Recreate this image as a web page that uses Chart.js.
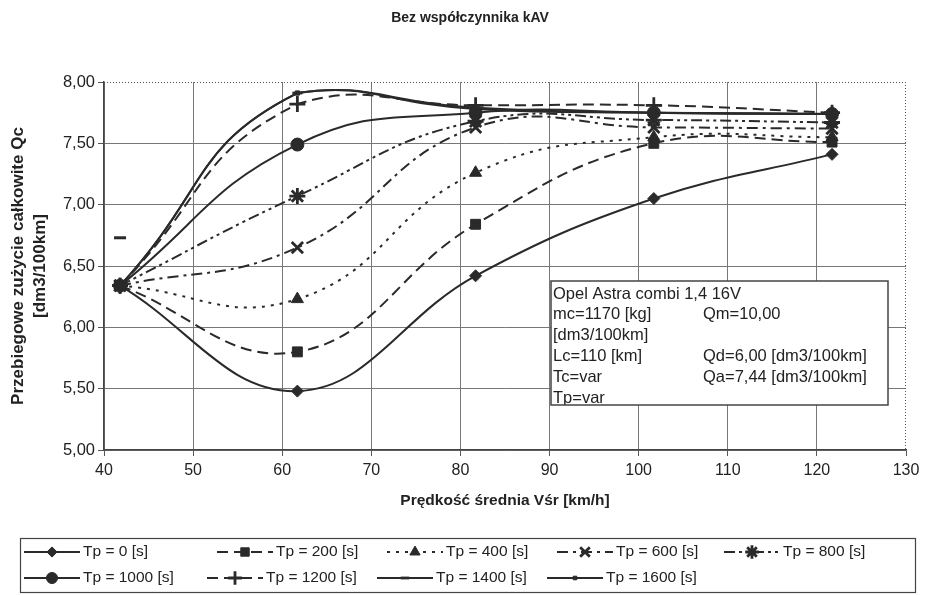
<!DOCTYPE html>
<html>
<head>
<meta charset="utf-8">
<script src="https://cdn.jsdelivr.net/npm/chart.js@4/dist/chart.umd.min.js"></script>
<style>
  body { margin: 0; background: #fff; }
  #wrap { width: 936px; height: 595px; }
</style>
</head>
<body>
<div id="wrap"><canvas id="qcChart" width="936" height="595"></canvas></div>
<script>
// predkosc srednia [km/h]
const speeds = [41.8, 61.7, 81.7, 101.7, 121.7];

const tp0 = [6.34, 5.48, 6.42, 7.05, 7.41];
const tp200 = [6.34, 5.80, 6.84, 7.50, 7.51];
const tp400 = [6.34, 6.23, 7.26, 7.55, 7.55];
const tp600 = [6.34, 6.65, 7.63, 7.63, 7.62];
const tp800 = [6.34, 7.07, 7.68, 7.69, 7.67];
const tp1000 = [6.34, 7.49, 7.75, 7.75, 7.74];
const tp1200 = [6.34, 7.82, 7.81, 7.81, 7.75];
const tp1400 = [6.34, 7.91, 7.79, 7.75, 7.74];
const tp1600 = [6.34, 7.91, 7.78, 7.75, 7.74];

// pojedynczy znacznik przy 42 km/h
const strayPoint = [{ x: 41.8, y: 6.73 }];

const yTicks = [5.0, 5.5, 6.0, 6.5, 7.0, 7.5, 8.0];

const infoLines = [
    ['Opel Astra combi 1,4 16V', ''],
    ['mc=1170 [kg]', 'Qm=10,00'],
    ['[dm3/100km]', ''],
    ['Lc=110 [km]', 'Qd=6,00 [dm3/100km]'],
    ['Tc=var', 'Qa=7,44 [dm3/100km]'],
    ['Tp=var', '']
];

const ink = '#2a2a2a';
const font = '"Liberation Sans", Arial, sans-serif';

function pts(values) {
    return values.map((v, i) => ({ x: speeds[i], y: v }));
}

const series = [
    { label: 'Tp = 0 [s]', data: tp0, dash: [], style: 'rectRot', r: 6, t: 0.4 },
    { label: 'Tp = 200 [s]', data: tp200, dash: [11, 6], style: 'rect', r: 7, t: 0.42 },
    { label: 'Tp = 400 [s]', data: tp400, dash: [3, 6], style: 'triangle', r: 7, t: 0.45 },
    { label: 'Tp = 600 [s]', data: tp600, dash: [11, 5, 3, 5], style: 'crossRot', r: 8, t: 0.45 },
    { label: 'Tp = 800 [s]', data: tp800, dash: [11, 4, 3, 4, 3, 4], style: 'star', r: 8, t: 0.45 },
    { label: 'Tp = 1000 [s]', data: tp1000, dash: [], style: 'circle', r: 6.5, t: 0.45 },
    { label: 'Tp = 1200 [s]', data: tp1200, dash: [11, 6], style: 'cross', r: 8, t: 0.5 },
    { label: 'Tp = 1400 [s]', data: tp1400, dash: [], style: 'line', r: 5, t: 0.5 },
    { label: 'Tp = 1600 [s]', data: tp1600, dash: [], style: 'rect', r: 3, t: 0.5 }
];

const thinMarks = ['crossRot', 'star', 'cross', 'line'];

const datasets = series.map(s => ({
    label: s.label,
    data: pts(s.data),
    borderColor: ink,
    backgroundColor: ink,
    borderWidth: 2,
    borderDash: s.dash,
    pointStyle: s.style,
    pointRadius: s.r,
    pointBorderWidth: thinMarks.includes(s.style) ? 2.8 : 1,
    tension: s.t,
    fill: false
}));

datasets.push({
    label: '',
    data: strayPoint,
    showLine: false,
    borderColor: ink,
    backgroundColor: ink,
    pointStyle: 'line',
    pointRadius: 6,
    pointBorderWidth: 3
});

// tytul, ramka kropkowana u gory i z prawej
const frame = {
    id: 'frame',
    beforeDatasetsDraw(chart) {
        const a = chart.chartArea, ctx = chart.ctx;
        ctx.save();
        ctx.strokeStyle = '#555';
        ctx.lineWidth = 1;
        ctx.setLineDash([1, 2]);
        ctx.beginPath();
        ctx.moveTo(a.left, a.top + 0.5);
        ctx.lineTo(a.right, a.top + 0.5);
        ctx.moveTo(a.right - 0.5, a.top);
        ctx.lineTo(a.right - 0.5, a.bottom);
        ctx.stroke();
        ctx.restore();
    },
    afterDraw(chart) {
        const ctx = chart.ctx;
        ctx.save();
        ctx.fillStyle = '#222';
        ctx.font = 'bold 14px ' + font;
        ctx.textAlign = 'center';
        ctx.textBaseline = 'middle';
        ctx.fillText('Bez współczynnika kAV', 470, 18);
        ctx.restore();
    }
};

const infoBox = {
    id: 'infoBox',
    afterDatasetsDraw(chart) {
        const ctx = chart.ctx;
        const x = 551, y = 281, w = 337, h = 124;
        ctx.save();
        ctx.fillStyle = '#fff';
        ctx.fillRect(x, y, w, h);
        ctx.beginPath();
        ctx.rect(x, y, w, h);
        ctx.clip();
        ctx.fillStyle = '#222';
        ctx.font = '16.5px ' + font;
        ctx.textBaseline = 'middle';
        infoLines.forEach((ln, i) => {
            const ty = y + 13 + i * 20.8;
            ctx.fillText(ln[0], x + 2, ty);
            if (ln[1]) ctx.fillText(ln[1], x + 152, ty);
        });
        ctx.restore();
        ctx.save();
        ctx.strokeStyle = '#444';
        ctx.lineWidth = 1.5;
        ctx.strokeRect(x, y, w, h);
        ctx.restore();
    }
};

const legendBox = {
    id: 'legendBox',
    afterDraw(chart) {
        const ctx = chart.ctx;
        const cols = [[24, 217, 387, 557, 724], [24, 207, 377, 547]];
        const rows = [552, 578];
        ctx.save();
        ctx.strokeStyle = '#444';
        ctx.lineWidth = 1.2;
        ctx.strokeRect(20.5, 538.5, 895, 54);
        ctx.font = '15.5px ' + font;
        ctx.textBaseline = 'middle';
        series.forEach((s, i) => {
            const row = i < 5 ? 0 : 1;
            const x0 = cols[row][row === 0 ? i : i - 5];
            const y0 = rows[row];
            const len = 56;
            ctx.strokeStyle = ink;
            ctx.fillStyle = ink;
            ctx.lineWidth = 2;
            ctx.setLineDash(s.dash);
            ctx.beginPath();
            ctx.moveTo(x0, y0);
            ctx.lineTo(x0 + len, y0);
            ctx.stroke();
            ctx.setLineDash([]);
            const bw = datasets[i].pointBorderWidth;
            ctx.lineWidth = bw;
            Chart.helpers.drawPoint(ctx, { pointStyle: s.style, radius: s.r * 0.85, rotation: 0, borderWidth: bw }, x0 + len / 2, y0);
            ctx.fillStyle = '#222';
            ctx.fillText(s.label, x0 + len + 3, y0);
        });
        ctx.restore();
    }
};

const ctx = document.getElementById('qcChart').getContext('2d');
const qcChart = new Chart(ctx, {
    type: 'line',
    data: { datasets: datasets },
    plugins: [frame, infoBox, legendBox],
    options: {
        responsive: false,
        animation: false,
        layout: { padding: { left: 0, right: 30, top: 82, bottom: 85 } },
        plugins: {
            legend: { display: false },
            tooltip: { enabled: false },
            title: { display: false }
        },
        scales: {
            x: {
                type: 'linear',
                min: 40,
                max: 130,
                afterFit: s => { s.height = 60; },
                ticks: {
                    stepSize: 10,
                    color: '#222',
                    padding: 5,
                    font: { family: font, size: 16 }
                },
                grid: {
                    color: c => c.tick && c.tick.value === 130 ? 'rgba(0,0,0,0)' : '#777',
                    tickLength: 6,
                    tickColor: '#555'
                },
                border: { color: '#444', width: 1.5 },
                title: {
                    display: true,
                    text: 'Prędkość średnia Vśr [km/h]',
                    color: '#222',
                    padding: { top: 0, bottom: 0 },
                    font: { family: font, size: 15.5, weight: 'bold' }
                }
            },
            y: {
                min: 5,
                max: 8,
                afterFit: s => { s.width = 104; },
                afterBuildTicks: s => { s.ticks = yTicks.map(v => ({ value: v })); },
                ticks: {
                    color: '#222',
                    padding: 3,
                    font: { family: font, size: 16.5 },
                    callback: v => v.toFixed(2).replace('.', ',')
                },
                grid: {
                    color: c => c.tick && c.tick.value === 8 ? 'rgba(0,0,0,0)' : '#777',
                    tickLength: 6,
                    tickColor: '#555'
                },
                border: { color: '#444', width: 1.5 },
                title: {
                    display: true,
                    text: ['Przebiegowe zużycie całkowite Qc', '[dm3/100km]'],
                    color: '#222',
                    padding: { top: 7, bottom: 0 },
                    font: { family: font, size: 17, weight: 'bold', lineHeight: 1.3 }
                }
            }
        }
    }
});
</script>
</body>
</html>
